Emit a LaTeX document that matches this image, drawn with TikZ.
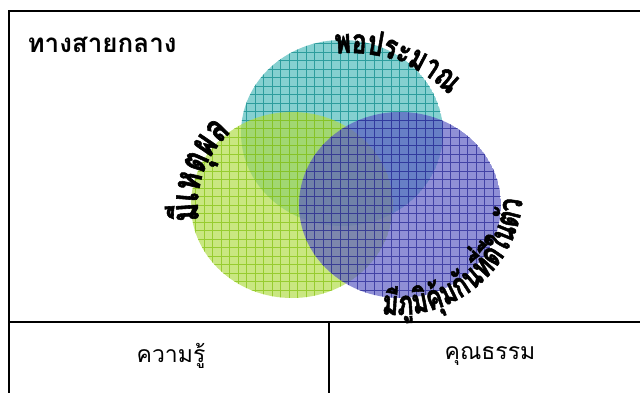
\documentclass[tikz,border=0pt]{standalone}
\usepackage{fontspec}
\newfontfamily\thaifont[Script=Thai]{Loma}
\newfontfamily\thainarrow[Script=Thai, FakeStretch=0.72, FakeBold=1.5]{Loma}
\usepackage{xcolor}
\usetikzlibrary{decorations.text,positioning}

\definecolor{tealfill}{RGB}{75,185,185}
\definecolor{tealline}{RGB}{15,140,140}
\definecolor{limefill}{RGB}{175,220,70}
\definecolor{limeline}{RGB}{135,195,20}
\definecolor{violetfill}{RGB}{90,90,195}
\definecolor{violetline}{RGB}{40,40,150}

\begin{document}
\begin{tikzpicture}[
  x=1pt, y=1pt,
  frame/.style={draw=black, line width=1.3pt},
  heading/.style={font=\thaifont\bfseries\fontsize{26}{29}\selectfont, anchor=west},
  cell/.style={font=\thaifont\fontsize{23}{26}\selectfont},
  bubble/.style={fill=#1, fill opacity=0.68},
  mesh/.style={draw=#1, draw opacity=0.75, line width=0.8pt},
  curvetext/.style={decorate, decoration={text along path, text align=center,
      text={|\thainarrow\bfseries\fontsize{34}{37}\selectfont|#1}}},
  curvelarge/.style={decorate, decoration={text along path, text align=center,
      text={|\thainarrow\bfseries\fontsize{39}{42}\selectfont|#1}}}
]
\useasboundingbox (0,0) rectangle (640,392);
\clip (0,0) rectangle (640,392);

% Frame
\draw[frame] (9,-10) rectangle (660,381);
\draw[frame] (9,70) -- (660,70);
\draw[frame] (329,70) -- (329,-10);

% Title
\node[heading] (title) at (24,347) {ทางสายกลาง};

% Circles
\foreach \cx/\cy/\tint in {342/259/teal, 292/187/lime, 400/187/violet} {
  \begin{scope}
    \clip (\cx,\cy) ellipse[x radius=101, y radius=93];
    \fill[bubble=\tint fill] (\cx,\cy) ellipse[x radius=101, y radius=93];
    \draw[mesh=\tint line] (170,80) grid[step=8.5] (520,370);
  \end{scope}
}

% Curved labels
\path[curvetext={พอประมาณ}]
  (350,202) ++(98:137) arc[start angle=98, end angle=42, radius=137];
\path[curvelarge={{มี}เห{ตุ}ผล}]
  (294,187) ++(202:96) arc[start angle=202, end angle=118, radius=96];
\path[curvetext={{มี}{ภู}{มิ}{คุ้}ม{กั}น{ที่}{ดี}ใน{ตั}ว}]
  (398,202) ++(-101:125) arc[start angle=-101, end angle=-1, radius=125];

% Bottom cells
\node[cell] (knowledge) at (171,36) {ความรู้};
\node[cell] (virtue)    at (490,36) {คุณธรรม};

\end{tikzpicture}
\end{document}
